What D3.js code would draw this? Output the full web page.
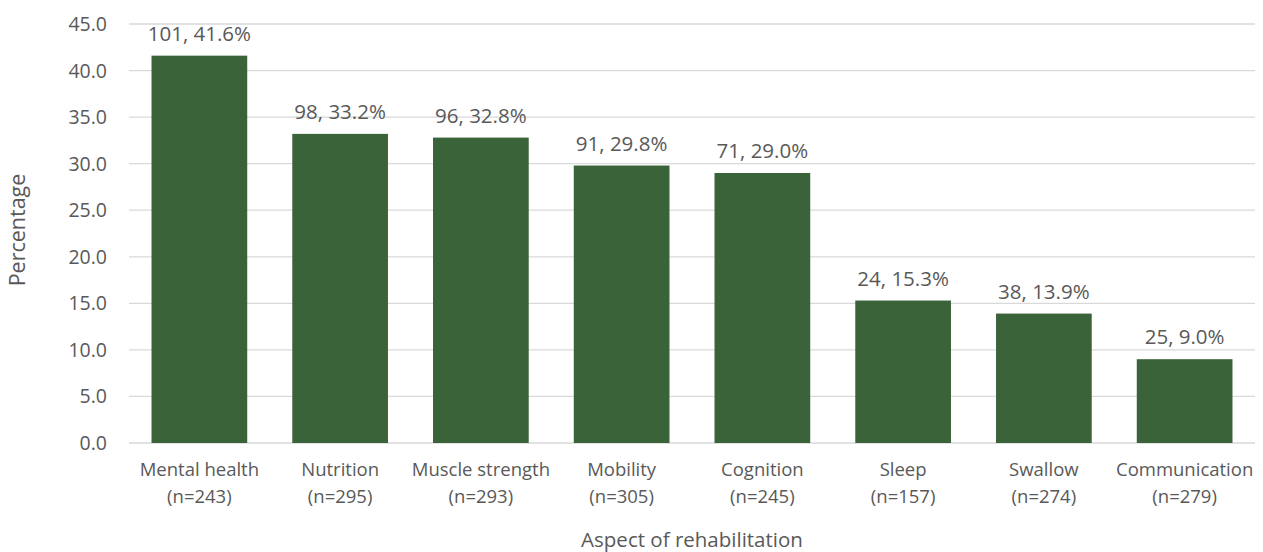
<!DOCTYPE html>
<html><head><meta charset="utf-8">
<script src="https://cdn.jsdelivr.net/npm/d3@7"></script>
<style>body{margin:0;background:#fff}svg{display:block}text{font-family:"Open Sans",sans-serif;fill:#595959}</style>
</head><body><svg id="c" width="1263" height="552"></svg>
<script>
const categories = ["Mental health","Nutrition","Muscle strength","Mobility","Cognition","Sleep","Swallow","Communication"];
const sampleSizes = [243,295,293,305,245,157,274,279];
const counts = [101,98,96,91,71,24,38,25];
const percentages = [41.6,33.2,32.8,29.8,29.0,15.3,13.9,9.0];
const yTicks = [0,5,10,15,20,25,30,35,40,45];

const svg = d3.select("#c");
const m = {l:129, r:8, t:24, b:109};
const W = 1263, H = 552;
const x = d3.scaleBand().domain(categories).range([m.l, W-m.r]).paddingInner(0.32).paddingOuter(0.16);
const y = d3.scaleLinear().domain([0,45]).range([H-m.b, m.t]);

svg.append("g").selectAll("line").data(yTicks).join("line")
  .attr("x1", m.l).attr("x2", W-m.r)
  .attr("y1", d=>y(d)).attr("y2", d=>y(d))
  .attr("stroke", "#d9d9d9").attr("stroke-width", 1.3);

svg.append("g").selectAll("text").data(yTicks).join("text")
  .attr("x", 107).attr("y", d=>y(d)).attr("dy","0.36em")
  .attr("text-anchor","end").style("font-size","19.5px")
  .text(d=>d.toFixed(1));

const data = categories.map((c,i)=>({c, n:sampleSizes[i], k:counts[i], p:percentages[i]}));

svg.append("g").selectAll("rect").data(data).join("rect")
  .attr("x", d=>x(d.c)).attr("width", x.bandwidth())
  .attr("y", d=>y(d.p)).attr("height", d=>y(0)-y(d.p))
  .attr("fill", "#3b6339");

svg.append("g").selectAll("text").data(data).join("text")
  .attr("x", d=>x(d.c)+x.bandwidth()/2).attr("y", d=>y(d.p)-15)
  .attr("text-anchor","middle").style("font-size","20.5px")
  .text(d=>`${d.k}, ${d.p.toFixed(1)}%`);

const xl = svg.append("g").selectAll("text").data(data).join("text")
  .attr("x", d=>x(d.c)+x.bandwidth()/2).attr("y", 476)
  .attr("text-anchor","middle").style("font-size","18.5px");
xl.append("tspan").attr("x", d=>x(d.c)+x.bandwidth()/2).text(d=>d.c);
xl.append("tspan").attr("x", d=>x(d.c)+x.bandwidth()/2).attr("dy", 27).text(d=>`(n=${d.n})`);

svg.append("text").attr("x", (m.l+W-m.r)/2).attr("y", 547).attr("text-anchor","middle")
  .style("font-size","20.5px").text("Aspect of rehabilitation");
svg.append("text").attr("transform", `translate(25,230) rotate(-90)`)
  .attr("text-anchor","middle").style("font-size","21.5px").text("Percentage");
</script></body></html>
